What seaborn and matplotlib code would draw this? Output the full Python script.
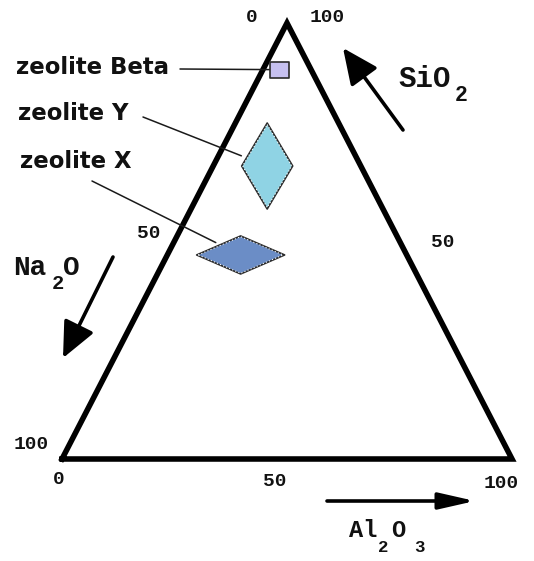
import pandas as pd
import matplotlib
matplotlib.use("Agg")
import matplotlib.pyplot as plt
from matplotlib.path import Path
import seaborn as sns

# Oxide compositions (mol %) at the centre of each zeolite field
zeolites = ["zeolite Beta", "zeolite Y", "zeolite X"]
sio2 = [89.3, 67.2, 46.8]
al2o3 = [3.6, 12.0, 16.3]
na2o = [7.1, 20.8, 36.9]

# Axis tick values (%)
tick_values = [0, 50, 100]

sns.set_theme(style="white")
plt.rcParams["font.family"] = ["DejaVu Sans"]

W, H = 534, 561
fig = plt.figure(figsize=(W / 100, H / 100), dpi=100)
ax = fig.add_axes([0, 0, 1, 1])

# Triangle frame in pixels: left (Na2O), right (Al2O3), apex (SiO2)
X0, X1, YB, YT = 62, 512, 459, 23
ax.set_xlim(-X0 / (X1 - X0), (W - X0) / (X1 - X0))
ax.set_ylim((YB - H) / (YB - YT), YB / (YB - YT))
ax.axis("off")


def tern(si, al, na):
    """Ternary composition (%) -> plot coordinates."""
    tot = si + al + na
    return al / tot + 0.5 * si / tot, si / tot


def px(x, y):
    """Pixel position -> plot coordinates (for placing text)."""
    return (x - X0) / (X1 - X0), (YB - y) / (YB - YT)


# Triangle outline
corners = [tern(0, 0, 100), tern(0, 100, 0), tern(100, 0, 0), tern(0, 0, 100)]
ax.plot([c[0] for c in corners], [c[1] for c in corners], color="black",
        lw=4.0, solid_joinstyle="miter", solid_capstyle="projecting", zorder=2)

# Zeolite fields
pts = [tern(s, a, n) for s, a, n in zip(sio2, al2o3, na2o)]
df = pd.DataFrame({"x": [p[0] for p in pts], "y": [p[1] for p in pts],
                   "zeolite": zeolites})

rect = Path([(-1, -0.82), (1, -0.82), (1, 0.82), (-1, 0.82), (-1, -0.82)],
            [Path.MOVETO, Path.LINETO, Path.LINETO, Path.LINETO, Path.CLOSEPOLY])
tall = Path([(0, 1), (0.593, 0), (0, -1), (-0.593, 0), (0, 1)],
            [Path.MOVETO, Path.LINETO, Path.LINETO, Path.LINETO, Path.CLOSEPOLY])
wide = Path([(-1, 0), (0, 0.432), (1, 0), (0, -0.432), (-1, 0)],
            [Path.MOVETO, Path.LINETO, Path.LINETO, Path.LINETO, Path.CLOSEPOLY])
markers = {"zeolite Beta": rect, "zeolite Y": tall, "zeolite X": wide}
sizes = {"zeolite Beta": 190, "zeolite Y": 3830, "zeolite X": 4010}
palette = {"zeolite Beta": "#c6c0f0", "zeolite Y": "#8fd3e4", "zeolite X": "#6b8dc6"}

sns.scatterplot(data=df, x="x", y="y", hue="zeolite", style="zeolite",
                size="zeolite", palette=palette, markers=markers, sizes=sizes,
                edgecolor="#2a2a2a", linewidth=1.2, legend=False, ax=ax, zorder=3)

# White dotted inner trim on the two faujasite diamonds
fau = df[df["zeolite"] != "zeolite Beta"]
for _, r in fau.iterrows():
    m = markers[r["zeolite"]]
    ax.scatter([r["x"]], [r["y"]], marker=m, s=sizes[r["zeolite"]] * 0.93,
               facecolors="none", edgecolors="white", linewidths=0.8,
               linestyle=(0, (1, 2)), zorder=4)

# Labels with leader lines
label_pos = {"zeolite Beta": (16, 74), "zeolite Y": (18, 120), "zeolite X": (20, 168)}
leader_start = {"zeolite Beta": (180, 69), "zeolite Y": (143, 117), "zeolite X": (92, 181)}
leader_shrink = {"zeolite Beta": 6.5, "zeolite Y": 20, "zeolite X": 20}
for name, (xx, yy) in zip(zeolites, pts):
    lx, ly = label_pos[name]
    ax.text(*px(lx, ly), name, fontsize=16.4, fontweight="bold", ha="left",
            va="baseline", color="#111111")
    ax.annotate("", xy=(xx, yy), xytext=px(*leader_start[name]),
                arrowprops=dict(arrowstyle="-", color="#1a1a1a", lw=1.1,
                                shrinkA=0, shrinkB=leader_shrink[name]),
                zorder=2.5)

# Tick labels along each edge
mono = dict(family="Liberation Mono", fontweight="bold", fontsize=14,
            color="#111111", ha="center", va="center")
tick_px = {
    "Na2O": [(251.5, 18), (148.5, 233), (31.5, 444.5)],
    "SiO2": [(442.5, 242.5), (327, 18)],
    "Al2O3": [(59, 480), (275, 482), (501, 483)],
}
for v, p in zip(tick_values, tick_px["Na2O"]):
    ax.text(*px(*p), str(v), **mono)
for v, p in zip(tick_values[1:], tick_px["SiO2"]):
    ax.text(*px(*p), str(v), **mono)
for v, p in zip(tick_values, tick_px["Al2O3"]):
    ax.text(*px(*p), str(v), **mono)


# Oxide axis titles with subscripts
def formula(parts, size):
    for text, (x, y), sub in parts:
        ax.text(*px(x, y), text, family="Liberation Mono", fontweight="bold",
                fontsize=size * (0.74 if sub else 1.0), ha="left",
                va="baseline", color="#111111")


formula([("SiO", (398, 87), False), ("2", (455, 101), True)], 21)
formula([("Na", (13, 275), False), ("2", (52, 289), True), ("O", (63, 275), False)], 20)
formula([("Al", (349, 537), False), ("2", (378, 552), True),
         ("O", (391, 537), False), ("3", (414, 552), True)], 17)

# Direction arrows
arrows = [((403, 130), (343, 48), "-|>,head_length=22,head_width=10"),
          ((113, 257), (63, 358), "-|>,head_length=22,head_width=10"),
          ((327, 501), (475, 501), "-|>,head_length=22,head_width=5")]
for tail, tip, style in arrows:
    ax.annotate("", xy=px(*tip), xytext=px(*tail),
                arrowprops=dict(arrowstyle=style, color="black", lw=2.6,
                                shrinkA=0, shrinkB=0, mutation_scale=1))

fig.savefig("out.png", dpi=100, facecolor="white")
